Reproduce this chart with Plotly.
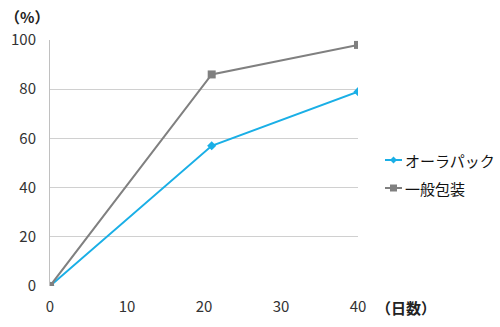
import plotly.graph_objects as go

days = [0, 21, 40]
aura_pack = [0, 57, 79]
general_pack = [0, 86, 98]
series_names = ["オーラパック", "一般包装"]
colors = ["#1AAFE6", "#808080"]

font = "Noto Sans CJK JP"
W, H = 500, 327
ML, MR, MT, MB = 50, 142, 40, 41
pw, ph = W - ML - MR, H - MT - MB


def px2paper(px, py):
    return (px - ML) / pw, (H - MB - py) / ph


fig = go.Figure()
fig.add_trace(go.Scatter(
    x=days, y=aura_pack, name=series_names[0], mode="lines+markers",
    line=dict(color=colors[0], width=2),
    marker=dict(symbol="diamond", size=7, color=colors[0]),
))
fig.add_trace(go.Scatter(
    x=days, y=general_pack, name=series_names[1], mode="lines+markers",
    line=dict(color=colors[1], width=2),
    marker=dict(symbol="square", size=8, color=colors[1]),
))

annotations = []
shapes = []
# axis titles
for text, (x, y) in [("<b>（%）</b>", (27, 17)), ("<b>（日数）</b>", (406, 307))]:
    ax, ay = px2paper(x, y)
    annotations.append(dict(text=text, x=ax, y=ay, xref="paper", yref="paper",
                            xanchor="center", yanchor="middle", showarrow=False,
                            font=dict(family=font, size=15, color="#222222")))

# manual legend
legend_rows = [160, 188]
for i, (name, col, yy) in enumerate(zip(series_names, colors, legend_rows)):
    x0, y0 = px2paper(385, yy)
    x1, _ = px2paper(402, yy)
    shapes.append(dict(type="line", xref="paper", yref="paper", x0=x0, x1=x1,
                       y0=y0, y1=y0, line=dict(color=col, width=2)))
    if i == 0:
        d = 3.5
        pts = [(393.5, yy - d), (393.5 + d, yy), (393.5, yy + d), (393.5 - d, yy)]
        path = "M " + " L ".join(
            "%f,%f" % px2paper(a, b) for a, b in pts) + " Z"
        shapes.append(dict(type="path", xref="paper", yref="paper", path=path,
                           fillcolor=col, line=dict(color=col, width=0)))
    else:
        a0, b0 = px2paper(390, yy + 3.5)
        a1, b1 = px2paper(397, yy - 3.5)
        shapes.append(dict(type="rect", xref="paper", yref="paper", x0=a0, x1=a1,
                           y0=b0, y1=b1, fillcolor=col, line=dict(width=0)))
    tx, ty = px2paper(403, yy)
    annotations.append(dict(text=name, x=tx, y=ty, xref="paper", yref="paper",
                            xanchor="left", yanchor="middle", showarrow=False,
                            font=dict(family=font, size=15, color="#111111")))

fig.update_layout(
    width=W, height=H,
    margin=dict(l=ML, r=MR, t=MT, b=MB, autoexpand=False),
    paper_bgcolor="white", plot_bgcolor="white",
    font=dict(family=font, size=15, color="#333333"),
    showlegend=False,
    xaxis=dict(range=[0, 40], tickvals=[0, 10, 20, 30, 40], showgrid=False,
               zeroline=False, showline=False, ticks="", ticklabelstandoff=10,
               tickfont=dict(family=font, size=15, color="#333333")),
    yaxis=dict(range=[0, 100], tickvals=[0, 20, 40, 60, 80, 100], showgrid=True,
               gridcolor="#D0D0D0", gridwidth=1, zeroline=False,
               showline=True, linecolor="#C0C0C0", linewidth=1, ticks="",
               ticklabelstandoff=10,
               tickfont=dict(family=font, size=15, color="#333333")),
    annotations=annotations,
    shapes=shapes,
)

fig.write_html("out.html")
